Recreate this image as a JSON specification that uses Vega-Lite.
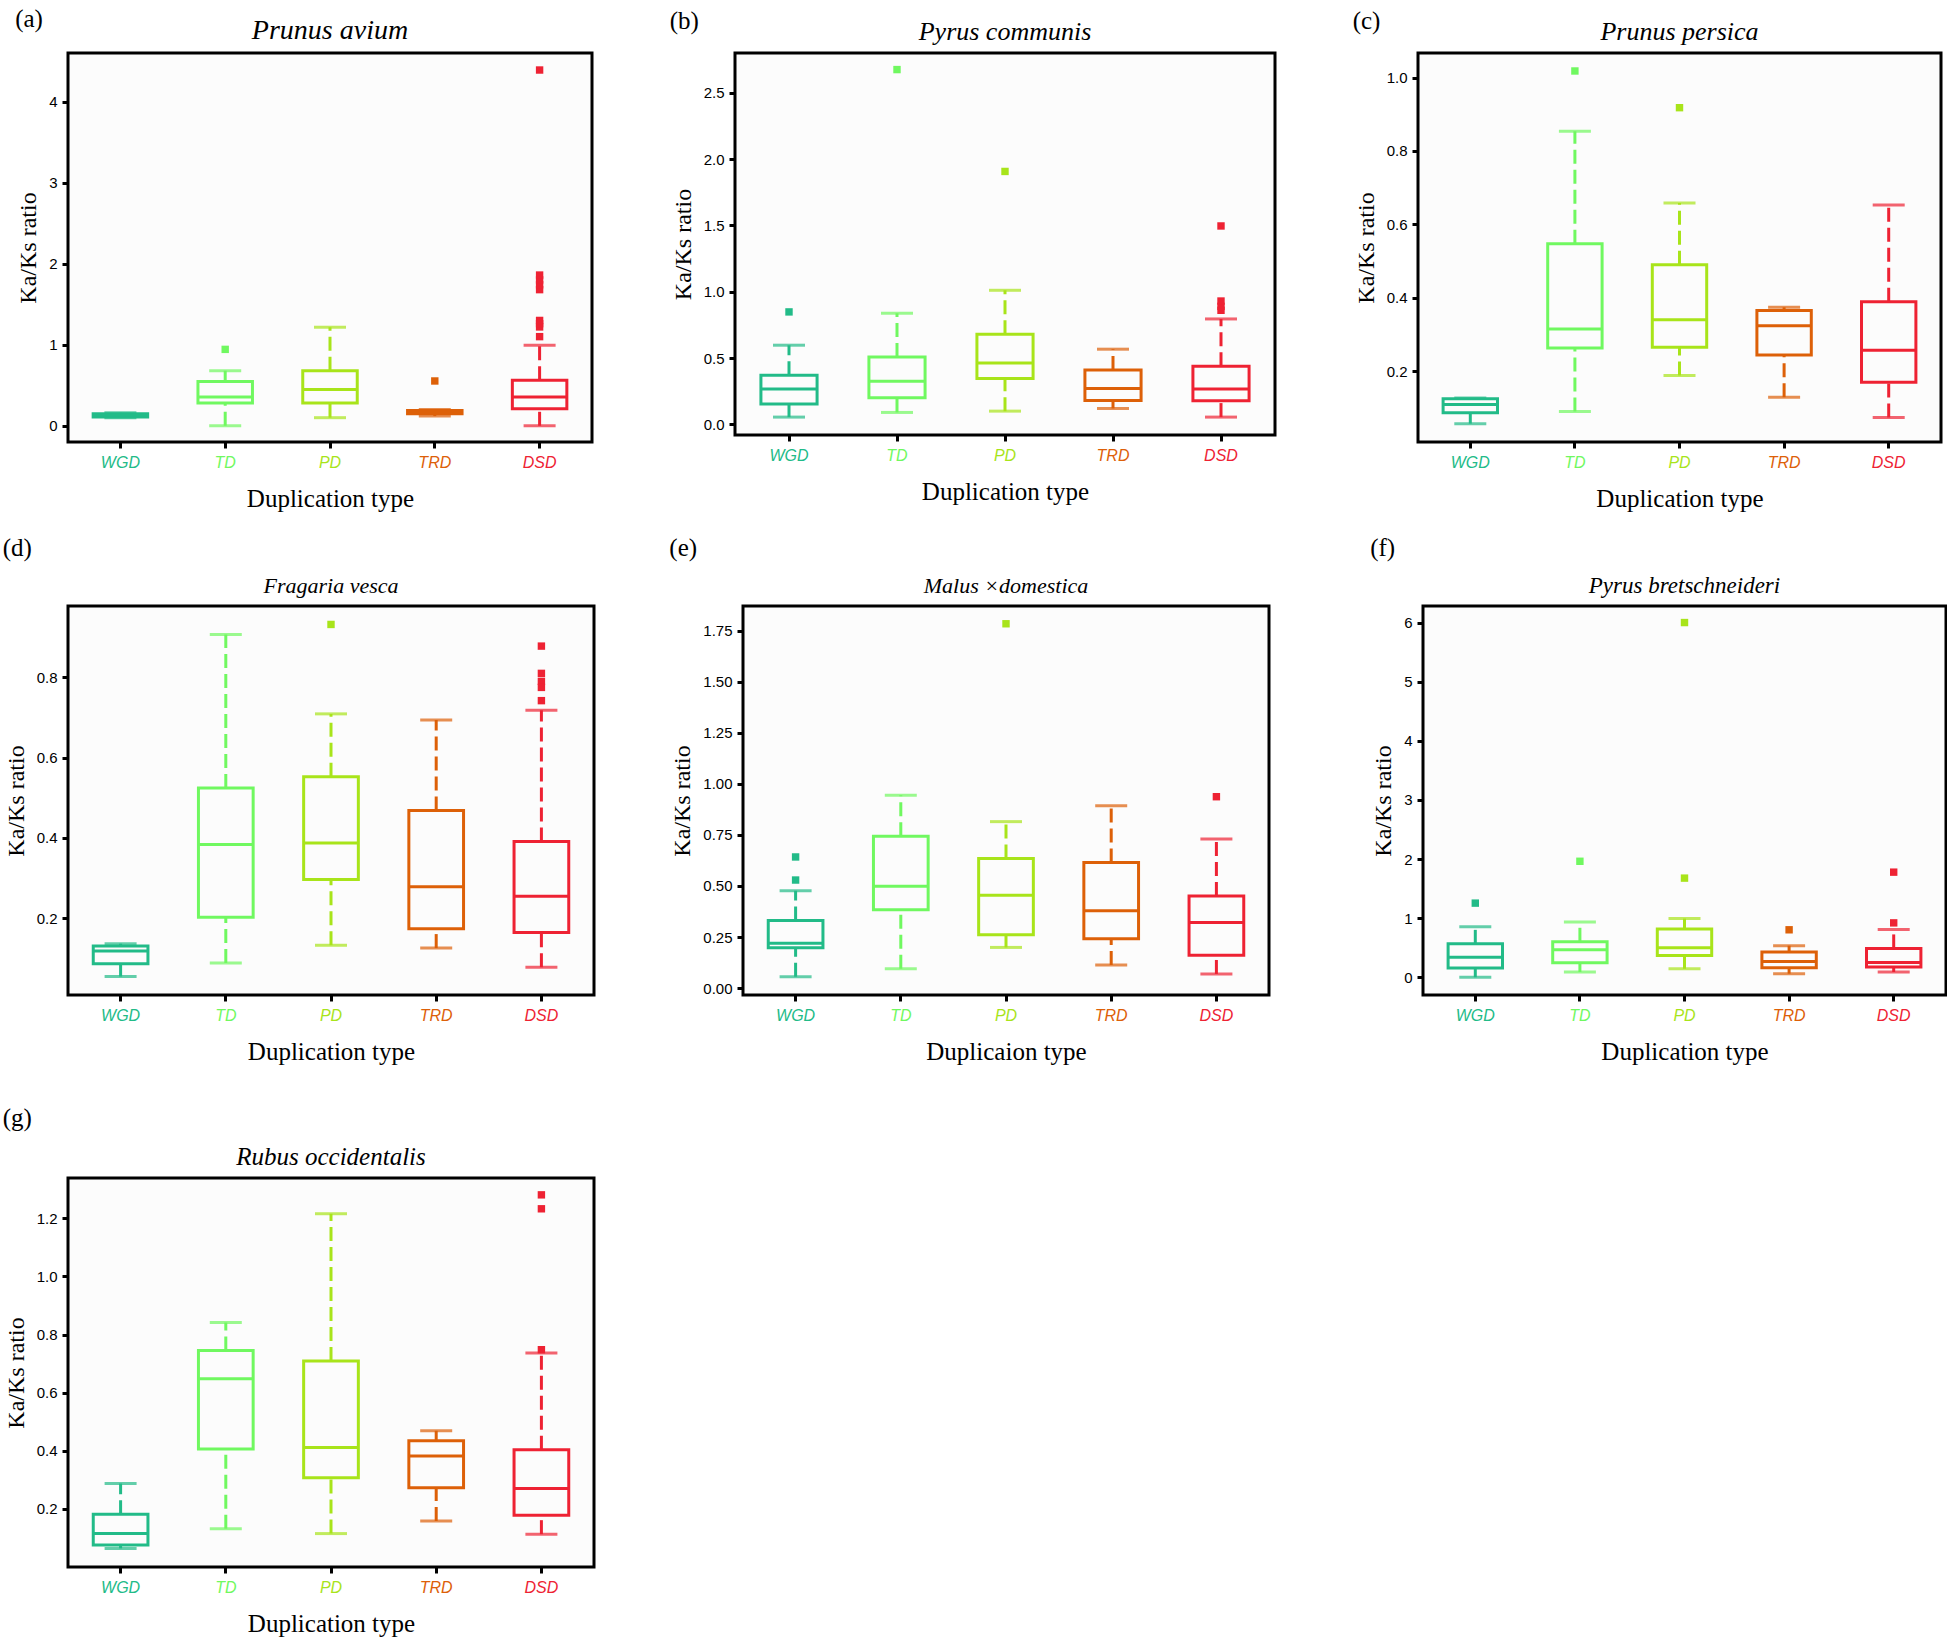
{
  "$schema": "https://vega.github.io/schema/vega-lite/v6.json",
  "padding": {"left": 2, "top": 6, "right": 2, "bottom": 2},
  "background": "white",
  "spacing": 39,
  "datasets": {
    "boxes": [
      {"panel": "a", "type": "WGD", "lower": 0.10, "q1": 0.11, "median": 0.13, "q3": 0.15, "upper": 0.16},
      {"panel": "a", "type": "TD", "lower": 0.0, "q1": 0.28, "median": 0.356, "q3": 0.545, "upper": 0.68},
      {"panel": "a", "type": "PD", "lower": 0.10, "q1": 0.28, "median": 0.449, "q3": 0.68, "upper": 1.216},
      {"panel": "a", "type": "TRD", "lower": 0.12, "q1": 0.15, "median": 0.17, "q3": 0.19, "upper": 0.20},
      {"panel": "a", "type": "DSD", "lower": 0.0, "q1": 0.21, "median": 0.356, "q3": 0.562, "upper": 0.994},
      {"panel": "b", "type": "WGD", "lower": 0.055, "q1": 0.153, "median": 0.266, "q3": 0.371, "upper": 0.597},
      {"panel": "b", "type": "TD", "lower": 0.09, "q1": 0.20, "median": 0.326, "q3": 0.509, "upper": 0.838},
      {"panel": "b", "type": "PD", "lower": 0.10, "q1": 0.346, "median": 0.462, "q3": 0.68, "upper": 1.011},
      {"panel": "b", "type": "TRD", "lower": 0.12, "q1": 0.18, "median": 0.271, "q3": 0.41, "upper": 0.567},
      {"panel": "b", "type": "DSD", "lower": 0.055, "q1": 0.178, "median": 0.266, "q3": 0.439, "upper": 0.795},
      {"panel": "c", "type": "WGD", "lower": 0.057, "q1": 0.087, "median": 0.109, "q3": 0.125, "upper": 0.127},
      {"panel": "c", "type": "TD", "lower": 0.090, "q1": 0.263, "median": 0.315, "q3": 0.547, "upper": 0.854},
      {"panel": "c", "type": "PD", "lower": 0.188, "q1": 0.265, "median": 0.340, "q3": 0.49, "upper": 0.658},
      {"panel": "c", "type": "TRD", "lower": 0.129, "q1": 0.244, "median": 0.324, "q3": 0.365, "upper": 0.374},
      {"panel": "c", "type": "DSD", "lower": 0.074, "q1": 0.170, "median": 0.257, "q3": 0.389, "upper": 0.653},
      {"panel": "d", "type": "WGD", "lower": 0.054, "q1": 0.086, "median": 0.118, "q3": 0.13, "upper": 0.136},
      {"panel": "d", "type": "TD", "lower": 0.088, "q1": 0.202, "median": 0.383, "q3": 0.524, "upper": 0.907},
      {"panel": "d", "type": "PD", "lower": 0.132, "q1": 0.296, "median": 0.387, "q3": 0.552, "upper": 0.709},
      {"panel": "d", "type": "TRD", "lower": 0.125, "q1": 0.173, "median": 0.278, "q3": 0.468, "upper": 0.694},
      {"panel": "d", "type": "DSD", "lower": 0.077, "q1": 0.164, "median": 0.254, "q3": 0.391, "upper": 0.718},
      {"panel": "e", "type": "WGD", "lower": 0.055, "q1": 0.197, "median": 0.22, "q3": 0.331, "upper": 0.477},
      {"panel": "e", "type": "TD", "lower": 0.094, "q1": 0.383, "median": 0.498, "q3": 0.743, "upper": 0.944},
      {"panel": "e", "type": "PD", "lower": 0.199, "q1": 0.261, "median": 0.455, "q3": 0.634, "upper": 0.815},
      {"panel": "e", "type": "TRD", "lower": 0.113, "q1": 0.242, "median": 0.379, "q3": 0.615, "upper": 0.893},
      {"panel": "e", "type": "DSD", "lower": 0.069, "q1": 0.161, "median": 0.321, "q3": 0.451, "upper": 0.730},
      {"panel": "f", "type": "WGD", "lower": 0.0, "q1": 0.155, "median": 0.339, "q3": 0.565, "upper": 0.856},
      {"panel": "f", "type": "TD", "lower": 0.089, "q1": 0.244, "median": 0.464, "q3": 0.60, "upper": 0.933},
      {"panel": "f", "type": "PD", "lower": 0.143, "q1": 0.369, "median": 0.50, "q3": 0.815, "upper": 0.993},
      {"panel": "f", "type": "TRD", "lower": 0.06, "q1": 0.16, "median": 0.268, "q3": 0.428, "upper": 0.535},
      {"panel": "f", "type": "DSD", "lower": 0.089, "q1": 0.172, "median": 0.25, "q3": 0.488, "upper": 0.809},
      {"panel": "g", "type": "WGD", "lower": 0.064, "q1": 0.076, "median": 0.115, "q3": 0.182, "upper": 0.287},
      {"panel": "g", "type": "TD", "lower": 0.132, "q1": 0.406, "median": 0.648, "q3": 0.745, "upper": 0.842},
      {"panel": "g", "type": "PD", "lower": 0.115, "q1": 0.307, "median": 0.411, "q3": 0.709, "upper": 1.216},
      {"panel": "g", "type": "TRD", "lower": 0.158, "q1": 0.273, "median": 0.382, "q3": 0.435, "upper": 0.469},
      {"panel": "g", "type": "DSD", "lower": 0.113, "q1": 0.178, "median": 0.270, "q3": 0.404, "upper": 0.737}
    ],
    "outliers": [
      {"panel": "a", "type": "TD", "value": 0.943},
      {"panel": "a", "type": "TRD", "value": 0.553},
      {"panel": "a", "type": "DSD", "value": 1.10},
      {"panel": "a", "type": "DSD", "value": 1.22},
      {"panel": "a", "type": "DSD", "value": 1.26},
      {"panel": "a", "type": "DSD", "value": 1.30},
      {"panel": "a", "type": "DSD", "value": 1.68},
      {"panel": "a", "type": "DSD", "value": 1.74},
      {"panel": "a", "type": "DSD", "value": 1.80},
      {"panel": "a", "type": "DSD", "value": 1.86},
      {"panel": "a", "type": "DSD", "value": 4.39},
      {"panel": "b", "type": "WGD", "value": 0.848},
      {"panel": "b", "type": "TD", "value": 2.675},
      {"panel": "b", "type": "PD", "value": 1.907},
      {"panel": "b", "type": "DSD", "value": 1.496},
      {"panel": "b", "type": "DSD", "value": 0.86},
      {"panel": "b", "type": "DSD", "value": 0.89},
      {"panel": "b", "type": "DSD", "value": 0.93},
      {"panel": "c", "type": "TD", "value": 1.018},
      {"panel": "c", "type": "PD", "value": 0.918},
      {"panel": "d", "type": "PD", "value": 0.932},
      {"panel": "d", "type": "DSD", "value": 0.878},
      {"panel": "d", "type": "DSD", "value": 0.81},
      {"panel": "d", "type": "DSD", "value": 0.79},
      {"panel": "d", "type": "DSD", "value": 0.775},
      {"panel": "d", "type": "DSD", "value": 0.742},
      {"panel": "e", "type": "WGD", "value": 0.529},
      {"panel": "e", "type": "WGD", "value": 0.642},
      {"panel": "e", "type": "PD", "value": 1.784},
      {"panel": "e", "type": "DSD", "value": 0.937},
      {"panel": "f", "type": "WGD", "value": 1.254},
      {"panel": "f", "type": "TD", "value": 1.962},
      {"panel": "f", "type": "PD", "value": 1.677},
      {"panel": "f", "type": "PD", "value": 6.0},
      {"panel": "f", "type": "TRD", "value": 0.803},
      {"panel": "f", "type": "DSD", "value": 0.92},
      {"panel": "f", "type": "DSD", "value": 1.778},
      {"panel": "g", "type": "DSD", "value": 1.281},
      {"panel": "g", "type": "DSD", "value": 1.233},
      {"panel": "g", "type": "DSD", "value": 0.748}
    ]
  },
  "config": {
    "view": {"stroke": "black", "strokeWidth": 3, "fill": "#fcfcfc"},
    "title": {"font": "Liberation Serif", "fontWeight": "normal", "color": "black"},
    "axis": {
      "domain": false, "grid": false, "tickColor": "black", "tickWidth": 3, "tickSize": 6,
      "labelFont": "Liberation Sans", "labelColor": "black",
      "titleFont": "Liberation Serif", "titleFontWeight": "normal", "titleColor": "black"
    },
    "axisX": {"labelFontSize": 16, "labelFontStyle": "italic", "labelPadding": 6, "titleFontSize": 25, "titlePadding": 16, "labelAngle": 0},
    "axisY": {"labelFontSize": 15, "labelPadding": 5, "titleFontSize": 24, "titlePadding": 8},
    "concat": {"spacing": 80}
  },
  "vconcat": [
    {
      "spacing": 22,
      "vconcat": [
        {
          "spacing": 75,
          "hconcat": [
            {
              "title": {"text": "(a)", "anchor": "start", "fontSize": 25, "offset": -16},
              "vconcat": [{
                "width": 524, "height": 389,
                "title": {"text": "Prunus avium", "fontSize": 28, "fontStyle": "italic", "offset": 8},
                "data": {"name": "boxes"},
                "transform": [{"filter": "datum.panel === 'a'"}],
                "encoding": {
                  "x": {"field": "type", "type": "nominal", "title": "Duplication type",
                    "scale": {"domain": ["WGD", "TD", "PD", "TRD", "DSD"], "paddingInner": 0.48, "paddingOuter": 0.24},
                    "axis": {"labelColor": {"condition": [
                      {"test": "datum.value === 'WGD'", "value": "#22BB88"},
                      {"test": "datum.value === 'TD'", "value": "#70F860"},
                      {"test": "datum.value === 'PD'", "value": "#A8E41A"},
                      {"test": "datum.value === 'TRD'", "value": "#DD6008"}], "value": "#EE2233"}}},
                  "color": {"field": "type", "type": "nominal", "legend": null,
                    "scale": {"domain": ["WGD", "TD", "PD", "TRD", "DSD"], "range": ["#22BB88", "#70F860", "#A8E41A", "#DD6008", "#EE2233"]}}
                },
                "layer": [
                  {"mark": {"type": "rule", "strokeWidth": 3, "strokeDash": [14, 6]},
                   "encoding": {"y": {"field": "lower", "type": "quantitative", "title": "Ka/Ks ratio", "scale": {"domain": [-0.2, 4.6], "nice": false, "zero": false}, "axis": {"values": [0, 1, 2, 3, 4], "format": "d"}}, "y2": {"field": "q1"}}},
                  {"mark": {"type": "rule", "strokeWidth": 3, "strokeDash": [14, 6]},
                   "encoding": {"y": {"field": "q3", "type": "quantitative"}, "y2": {"field": "upper"}}},
                  {"mark": {"type": "tick", "thickness": 3, "size": 32}, "encoding": {"y": {"field": "lower", "type": "quantitative"}}},
                  {"mark": {"type": "tick", "thickness": 3, "size": 32}, "encoding": {"y": {"field": "upper", "type": "quantitative"}}},
                  {"mark": {"type": "bar", "fill": "#fcfcfc", "strokeWidth": 3},
                   "encoding": {"y": {"field": "q1", "type": "quantitative"}, "y2": {"field": "q3"}, "stroke": {"field": "type", "type": "nominal", "legend": null, "scale": {"domain": ["WGD", "TD", "PD", "TRD", "DSD"], "range": ["#22BB88", "#70F860", "#A8E41A", "#DD6008", "#EE2233"]}}}},
                  {"mark": {"type": "bar", "fillOpacity": 0, "strokeWidth": 3},
                   "encoding": {"y": {"field": "median", "type": "quantitative"}, "y2": {"field": "median"}, "stroke": {"field": "type", "type": "nominal", "legend": null}}},
                  {"data": {"name": "outliers"}, "transform": [{"filter": "datum.panel === 'a'"}],
                   "mark": {"type": "point", "shape": "square", "filled": true, "size": 55, "opacity": 1},
                   "encoding": {"y": {"field": "value", "type": "quantitative"}}}
                ]
              }]
            },
            {
              "title": {"text": "(b)", "anchor": "start", "fontSize": 25, "offset": -16},
              "vconcat": [{
                "width": 540, "height": 382,
                "title": {"text": "Pyrus communis", "fontSize": 26, "fontStyle": "italic", "offset": 8},
                "data": {"name": "boxes"},
                "transform": [{"filter": "datum.panel === 'b'"}],
                "encoding": {
                  "x": {"field": "type", "type": "nominal", "title": "Duplication type",
                    "scale": {"domain": ["WGD", "TD", "PD", "TRD", "DSD"], "paddingInner": 0.48, "paddingOuter": 0.24},
                    "axis": {"labelColor": {"condition": [
                      {"test": "datum.value === 'WGD'", "value": "#22BB88"},
                      {"test": "datum.value === 'TD'", "value": "#70F860"},
                      {"test": "datum.value === 'PD'", "value": "#A8E41A"},
                      {"test": "datum.value === 'TRD'", "value": "#DD6008"}], "value": "#EE2233"}}},
                  "color": {"field": "type", "type": "nominal", "legend": null,
                    "scale": {"domain": ["WGD", "TD", "PD", "TRD", "DSD"], "range": ["#22BB88", "#70F860", "#A8E41A", "#DD6008", "#EE2233"]}}
                },
                "layer": [
                  {"mark": {"type": "rule", "strokeWidth": 3, "strokeDash": [14, 6]},
                   "encoding": {"y": {"field": "lower", "type": "quantitative", "title": "Ka/Ks ratio", "scale": {"domain": [-0.08, 2.8], "nice": false, "zero": false}, "axis": {"values": [0, 0.5, 1, 1.5, 2, 2.5], "format": ".1f"}}, "y2": {"field": "q1"}}},
                  {"mark": {"type": "rule", "strokeWidth": 3, "strokeDash": [14, 6]},
                   "encoding": {"y": {"field": "q3", "type": "quantitative"}, "y2": {"field": "upper"}}},
                  {"mark": {"type": "tick", "thickness": 3, "size": 32}, "encoding": {"y": {"field": "lower", "type": "quantitative"}}},
                  {"mark": {"type": "tick", "thickness": 3, "size": 32}, "encoding": {"y": {"field": "upper", "type": "quantitative"}}},
                  {"mark": {"type": "bar", "fill": "#fcfcfc", "strokeWidth": 3},
                   "encoding": {"y": {"field": "q1", "type": "quantitative"}, "y2": {"field": "q3"}, "stroke": {"field": "type", "type": "nominal", "legend": null, "scale": {"domain": ["WGD", "TD", "PD", "TRD", "DSD"], "range": ["#22BB88", "#70F860", "#A8E41A", "#DD6008", "#EE2233"]}}}},
                  {"mark": {"type": "bar", "fillOpacity": 0, "strokeWidth": 3},
                   "encoding": {"y": {"field": "median", "type": "quantitative"}, "y2": {"field": "median"}, "stroke": {"field": "type", "type": "nominal", "legend": null}}},
                  {"data": {"name": "outliers"}, "transform": [{"filter": "datum.panel === 'b'"}],
                   "mark": {"type": "point", "shape": "square", "filled": true, "size": 55, "opacity": 1},
                   "encoding": {"y": {"field": "value", "type": "quantitative"}}}
                ]
              }]
            },
            {
              "title": {"text": "(c)", "anchor": "start", "fontSize": 25, "offset": -16},
              "vconcat": [{
                "width": 523, "height": 389,
                "title": {"text": "Prunus persica", "fontSize": 26, "fontStyle": "italic", "offset": 8},
                "data": {"name": "boxes"},
                "transform": [{"filter": "datum.panel === 'c'"}],
                "encoding": {
                  "x": {"field": "type", "type": "nominal", "title": "Duplication type",
                    "scale": {"domain": ["WGD", "TD", "PD", "TRD", "DSD"], "paddingInner": 0.48, "paddingOuter": 0.24},
                    "axis": {"labelColor": {"condition": [
                      {"test": "datum.value === 'WGD'", "value": "#22BB88"},
                      {"test": "datum.value === 'TD'", "value": "#70F860"},
                      {"test": "datum.value === 'PD'", "value": "#A8E41A"},
                      {"test": "datum.value === 'TRD'", "value": "#DD6008"}], "value": "#EE2233"}}},
                  "color": {"field": "type", "type": "nominal", "legend": null,
                    "scale": {"domain": ["WGD", "TD", "PD", "TRD", "DSD"], "range": ["#22BB88", "#70F860", "#A8E41A", "#DD6008", "#EE2233"]}}
                },
                "layer": [
                  {"mark": {"type": "rule", "strokeWidth": 3, "strokeDash": [14, 6]},
                   "encoding": {"y": {"field": "lower", "type": "quantitative", "title": "Ka/Ks ratio", "scale": {"domain": [0.007, 1.067], "nice": false, "zero": false}, "axis": {"values": [0.2, 0.4, 0.6, 0.8, 1.0], "format": ".1f"}}, "y2": {"field": "q1"}}},
                  {"mark": {"type": "rule", "strokeWidth": 3, "strokeDash": [14, 6]},
                   "encoding": {"y": {"field": "q3", "type": "quantitative"}, "y2": {"field": "upper"}}},
                  {"mark": {"type": "tick", "thickness": 3, "size": 32}, "encoding": {"y": {"field": "lower", "type": "quantitative"}}},
                  {"mark": {"type": "tick", "thickness": 3, "size": 32}, "encoding": {"y": {"field": "upper", "type": "quantitative"}}},
                  {"mark": {"type": "bar", "fill": "#fcfcfc", "strokeWidth": 3},
                   "encoding": {"y": {"field": "q1", "type": "quantitative"}, "y2": {"field": "q3"}, "stroke": {"field": "type", "type": "nominal", "legend": null, "scale": {"domain": ["WGD", "TD", "PD", "TRD", "DSD"], "range": ["#22BB88", "#70F860", "#A8E41A", "#DD6008", "#EE2233"]}}}},
                  {"mark": {"type": "bar", "fillOpacity": 0, "strokeWidth": 3},
                   "encoding": {"y": {"field": "median", "type": "quantitative"}, "y2": {"field": "median"}, "stroke": {"field": "type", "type": "nominal", "legend": null}}},
                  {"data": {"name": "outliers"}, "transform": [{"filter": "datum.panel === 'c'"}],
                   "mark": {"type": "point", "shape": "square", "filled": true, "size": 55, "opacity": 1},
                   "encoding": {"y": {"field": "value", "type": "quantitative"}}}
                ]
              }]
            }
          ]
        },
        {
          "spacing": 99,
          "hconcat": [
            {
              "spacing": 73,
              "hconcat": [
                {
                  "title": {"text": "(d)", "anchor": "start", "fontSize": 25, "offset": 13},
                  "vconcat": [{
                    "width": 526, "height": 389,
                    "title": {"text": "Fragaria vesca", "fontSize": 22, "fontStyle": "italic", "offset": 8},
                    "data": {"name": "boxes"},
                    "transform": [{"filter": "datum.panel === 'd'"}],
                    "encoding": {
                      "x": {"field": "type", "type": "nominal", "title": "Duplication type",
                        "scale": {"domain": ["WGD", "TD", "PD", "TRD", "DSD"], "paddingInner": 0.48, "paddingOuter": 0.24},
                        "axis": {"labelColor": {"condition": [
                          {"test": "datum.value === 'WGD'", "value": "#22BB88"},
                          {"test": "datum.value === 'TD'", "value": "#70F860"},
                          {"test": "datum.value === 'PD'", "value": "#A8E41A"},
                          {"test": "datum.value === 'TRD'", "value": "#DD6008"}], "value": "#EE2233"}}},
                      "color": {"field": "type", "type": "nominal", "legend": null,
                        "scale": {"domain": ["WGD", "TD", "PD", "TRD", "DSD"], "range": ["#22BB88", "#70F860", "#A8E41A", "#DD6008", "#EE2233"]}}
                    },
                    "layer": [
                      {"mark": {"type": "rule", "strokeWidth": 3, "strokeDash": [14, 6]},
                       "encoding": {"y": {"field": "lower", "type": "quantitative", "title": "Ka/Ks ratio", "scale": {"domain": [0.008, 0.978], "nice": false, "zero": false}, "axis": {"values": [0.2, 0.4, 0.6, 0.8], "format": ".1f"}}, "y2": {"field": "q1"}}},
                      {"mark": {"type": "rule", "strokeWidth": 3, "strokeDash": [14, 6]},
                       "encoding": {"y": {"field": "q3", "type": "quantitative"}, "y2": {"field": "upper"}}},
                      {"mark": {"type": "tick", "thickness": 3, "size": 32}, "encoding": {"y": {"field": "lower", "type": "quantitative"}}},
                      {"mark": {"type": "tick", "thickness": 3, "size": 32}, "encoding": {"y": {"field": "upper", "type": "quantitative"}}},
                      {"mark": {"type": "bar", "fill": "#fcfcfc", "strokeWidth": 3},
                       "encoding": {"y": {"field": "q1", "type": "quantitative"}, "y2": {"field": "q3"}, "stroke": {"field": "type", "type": "nominal", "legend": null, "scale": {"domain": ["WGD", "TD", "PD", "TRD", "DSD"], "range": ["#22BB88", "#70F860", "#A8E41A", "#DD6008", "#EE2233"]}}}},
                      {"mark": {"type": "bar", "fillOpacity": 0, "strokeWidth": 3},
                       "encoding": {"y": {"field": "median", "type": "quantitative"}, "y2": {"field": "median"}, "stroke": {"field": "type", "type": "nominal", "legend": null}}},
                      {"data": {"name": "outliers"}, "transform": [{"filter": "datum.panel === 'd'"}],
                       "mark": {"type": "point", "shape": "square", "filled": true, "size": 55, "opacity": 1},
                       "encoding": {"y": {"field": "value", "type": "quantitative"}}}
                    ]
                  }]
                },
                {
                  "title": {"text": "(e)", "anchor": "start", "fontSize": 25, "offset": 13},
                  "vconcat": [{
                    "width": 526, "height": 389,
                    "title": {"text": "Malus ×domestica", "fontSize": 22, "fontStyle": "italic", "offset": 8},
                    "data": {"name": "boxes"},
                    "transform": [{"filter": "datum.panel === 'e'"}],
                    "encoding": {
                      "x": {"field": "type", "type": "nominal", "title": "Duplicaion type",
                        "scale": {"domain": ["WGD", "TD", "PD", "TRD", "DSD"], "paddingInner": 0.48, "paddingOuter": 0.24},
                        "axis": {"labelColor": {"condition": [
                          {"test": "datum.value === 'WGD'", "value": "#22BB88"},
                          {"test": "datum.value === 'TD'", "value": "#70F860"},
                          {"test": "datum.value === 'PD'", "value": "#A8E41A"},
                          {"test": "datum.value === 'TRD'", "value": "#DD6008"}], "value": "#EE2233"}}},
                      "color": {"field": "type", "type": "nominal", "legend": null,
                        "scale": {"domain": ["WGD", "TD", "PD", "TRD", "DSD"], "range": ["#22BB88", "#70F860", "#A8E41A", "#DD6008", "#EE2233"]}}
                    },
                    "layer": [
                      {"mark": {"type": "rule", "strokeWidth": 3, "strokeDash": [14, 6]},
                       "encoding": {"y": {"field": "lower", "type": "quantitative", "title": "Ka/Ks ratio", "scale": {"domain": [-0.034, 1.871], "nice": false, "zero": false}, "axis": {"values": [0, 0.25, 0.5, 0.75, 1, 1.25, 1.5, 1.75], "format": ".2f"}}, "y2": {"field": "q1"}}},
                      {"mark": {"type": "rule", "strokeWidth": 3, "strokeDash": [14, 6]},
                       "encoding": {"y": {"field": "q3", "type": "quantitative"}, "y2": {"field": "upper"}}},
                      {"mark": {"type": "tick", "thickness": 3, "size": 32}, "encoding": {"y": {"field": "lower", "type": "quantitative"}}},
                      {"mark": {"type": "tick", "thickness": 3, "size": 32}, "encoding": {"y": {"field": "upper", "type": "quantitative"}}},
                      {"mark": {"type": "bar", "fill": "#fcfcfc", "strokeWidth": 3},
                       "encoding": {"y": {"field": "q1", "type": "quantitative"}, "y2": {"field": "q3"}, "stroke": {"field": "type", "type": "nominal", "legend": null, "scale": {"domain": ["WGD", "TD", "PD", "TRD", "DSD"], "range": ["#22BB88", "#70F860", "#A8E41A", "#DD6008", "#EE2233"]}}}},
                      {"mark": {"type": "bar", "fillOpacity": 0, "strokeWidth": 3},
                       "encoding": {"y": {"field": "median", "type": "quantitative"}, "y2": {"field": "median"}, "stroke": {"field": "type", "type": "nominal", "legend": null}}},
                      {"data": {"name": "outliers"}, "transform": [{"filter": "datum.panel === 'e'"}],
                       "mark": {"type": "point", "shape": "square", "filled": true, "size": 55, "opacity": 1},
                       "encoding": {"y": {"field": "value", "type": "quantitative"}}}
                    ]
                  }]
                }
              ]
            },
            {
              "title": {"text": "(f)", "anchor": "start", "fontSize": 25, "offset": 13},
              "vconcat": [{
                "width": 523, "height": 389,
                "title": {"text": "Pyrus bretschneideri", "fontSize": 23, "fontStyle": "italic", "offset": 8},
                "data": {"name": "boxes"},
                "transform": [{"filter": "datum.panel === 'f'"}],
                "encoding": {
                  "x": {"field": "type", "type": "nominal", "title": "Duplication type",
                    "scale": {"domain": ["WGD", "TD", "PD", "TRD", "DSD"], "paddingInner": 0.48, "paddingOuter": 0.24},
                    "axis": {"labelColor": {"condition": [
                      {"test": "datum.value === 'WGD'", "value": "#22BB88"},
                      {"test": "datum.value === 'TD'", "value": "#70F860"},
                      {"test": "datum.value === 'PD'", "value": "#A8E41A"},
                      {"test": "datum.value === 'TRD'", "value": "#DD6008"}], "value": "#EE2233"}}},
                  "color": {"field": "type", "type": "nominal", "legend": null,
                    "scale": {"domain": ["WGD", "TD", "PD", "TRD", "DSD"], "range": ["#22BB88", "#70F860", "#A8E41A", "#DD6008", "#EE2233"]}}
                },
                "layer": [
                  {"mark": {"type": "rule", "strokeWidth": 3, "strokeDash": [14, 6]},
                   "encoding": {"y": {"field": "lower", "type": "quantitative", "title": "Ka/Ks ratio", "scale": {"domain": [-0.3, 6.28], "nice": false, "zero": false}, "axis": {"values": [0, 1, 2, 3, 4, 5, 6], "format": "d"}}, "y2": {"field": "q1"}}},
                  {"mark": {"type": "rule", "strokeWidth": 3, "strokeDash": [14, 6]},
                   "encoding": {"y": {"field": "q3", "type": "quantitative"}, "y2": {"field": "upper"}}},
                  {"mark": {"type": "tick", "thickness": 3, "size": 32}, "encoding": {"y": {"field": "lower", "type": "quantitative"}}},
                  {"mark": {"type": "tick", "thickness": 3, "size": 32}, "encoding": {"y": {"field": "upper", "type": "quantitative"}}},
                  {"mark": {"type": "bar", "fill": "#fcfcfc", "strokeWidth": 3},
                   "encoding": {"y": {"field": "q1", "type": "quantitative"}, "y2": {"field": "q3"}, "stroke": {"field": "type", "type": "nominal", "legend": null, "scale": {"domain": ["WGD", "TD", "PD", "TRD", "DSD"], "range": ["#22BB88", "#70F860", "#A8E41A", "#DD6008", "#EE2233"]}}}},
                  {"mark": {"type": "bar", "fillOpacity": 0, "strokeWidth": 3},
                   "encoding": {"y": {"field": "median", "type": "quantitative"}, "y2": {"field": "median"}, "stroke": {"field": "type", "type": "nominal", "legend": null}}},
                  {"data": {"name": "outliers"}, "transform": [{"filter": "datum.panel === 'f'"}],
                   "mark": {"type": "point", "shape": "square", "filled": true, "size": 55, "opacity": 1},
                   "encoding": {"y": {"field": "value", "type": "quantitative"}}}
                ]
              }]
            }
          ]
        }
      ]
    },
    {
      "hconcat": [
        {
          "title": {"text": "(g)", "anchor": "start", "fontSize": 25, "offset": 13},
          "vconcat": [{
            "width": 526, "height": 389,
            "title": {"text": "Rubus occidentalis", "fontSize": 25, "fontStyle": "italic", "offset": 8},
            "data": {"name": "boxes"},
            "transform": [{"filter": "datum.panel === 'g'"}],
            "encoding": {
              "x": {"field": "type", "type": "nominal", "title": "Duplication type",
                "scale": {"domain": ["WGD", "TD", "PD", "TRD", "DSD"], "paddingInner": 0.48, "paddingOuter": 0.24},
                "axis": {"labelColor": {"condition": [
                  {"test": "datum.value === 'WGD'", "value": "#22BB88"},
                  {"test": "datum.value === 'TD'", "value": "#70F860"},
                  {"test": "datum.value === 'PD'", "value": "#A8E41A"},
                  {"test": "datum.value === 'TRD'", "value": "#DD6008"}], "value": "#EE2233"}}},
              "color": {"field": "type", "type": "nominal", "legend": null,
                "scale": {"domain": ["WGD", "TD", "PD", "TRD", "DSD"], "range": ["#22BB88", "#70F860", "#A8E41A", "#DD6008", "#EE2233"]}}
            },
            "layer": [
              {"mark": {"type": "rule", "strokeWidth": 3, "strokeDash": [14, 6]},
               "encoding": {"y": {"field": "lower", "type": "quantitative", "title": "Ka/Ks ratio", "scale": {"domain": [0.0, 1.339], "nice": false, "zero": false}, "axis": {"values": [0.2, 0.4, 0.6, 0.8, 1.0, 1.2], "format": ".1f"}}, "y2": {"field": "q1"}}},
              {"mark": {"type": "rule", "strokeWidth": 3, "strokeDash": [14, 6]},
               "encoding": {"y": {"field": "q3", "type": "quantitative"}, "y2": {"field": "upper"}}},
              {"mark": {"type": "tick", "thickness": 3, "size": 32}, "encoding": {"y": {"field": "lower", "type": "quantitative"}}},
              {"mark": {"type": "tick", "thickness": 3, "size": 32}, "encoding": {"y": {"field": "upper", "type": "quantitative"}}},
              {"mark": {"type": "bar", "fill": "#fcfcfc", "strokeWidth": 3},
               "encoding": {"y": {"field": "q1", "type": "quantitative"}, "y2": {"field": "q3"}, "stroke": {"field": "type", "type": "nominal", "legend": null, "scale": {"domain": ["WGD", "TD", "PD", "TRD", "DSD"], "range": ["#22BB88", "#70F860", "#A8E41A", "#DD6008", "#EE2233"]}}}},
              {"mark": {"type": "bar", "fillOpacity": 0, "strokeWidth": 3},
               "encoding": {"y": {"field": "median", "type": "quantitative"}, "y2": {"field": "median"}, "stroke": {"field": "type", "type": "nominal", "legend": null}}},
              {"data": {"name": "outliers"}, "transform": [{"filter": "datum.panel === 'g'"}],
               "mark": {"type": "point", "shape": "square", "filled": true, "size": 55, "opacity": 1},
               "encoding": {"y": {"field": "value", "type": "quantitative"}}}
            ]
          }]
        }
      ]
    }
  ]
}
